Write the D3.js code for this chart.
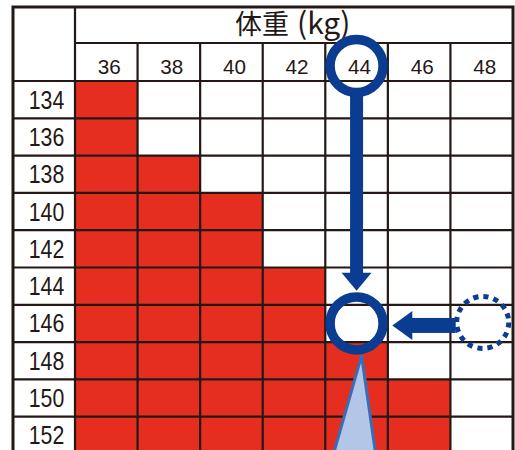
<!DOCTYPE html>
<html><head><meta charset="utf-8">
<script src="https://cdn.jsdelivr.net/npm/d3@7"></script>
<style>html,body{margin:0;padding:0;background:#fff;overflow:hidden} svg{display:block}</style>
</head><body><svg id="c" width="515" height="450"></svg>
<script>
// ---- data ----
const weights = [36, 38, 40, 42, 44, 46, 48];            // column headers (kg)
const heights = [134, 136, 138, 140, 142, 144, 146, 148, 150, 152]; // row labels (cm)
const redFrom = [134, 138, 140, 144, 148, 150, null];    // first red row per weight column
const titleMain = "体重";
const titleUnit = "(kg)";
const selectedWeight = 44;
const selectedHeight = 146;
const fromWeight = 48;

// ---- layout ----
const L = 13, R = 513, T = 7, titleB = 43, headB = 81, B = 454, labelR = 75;
const RED = "#e52e20", LINE = "#231815", BLUE = "#0a3d91";
const svg = d3.select("#c");
const x = d3.scaleBand().domain(weights).range([labelR, R]);
const y = d3.scaleBand().domain(heights).range([headB, B]);
const bw = x.bandwidth(), bh = y.bandwidth();

// cells
const cells = [];
weights.forEach((w, i) => heights.forEach(h => cells.push({w, h, red: redFrom[i] != null && h >= redFrom[i]})));
svg.append("g").selectAll("rect").data(cells.filter(c => c.red)).join("rect")
  .attr("x", d => x(d.w)).attr("y", d => y(d.h))
  .attr("width", bw).attr("height", bh).attr("fill", RED);

// grid lines
const g = svg.append("g").attr("stroke", LINE).attr("stroke-width", 2.2);
g.append("line").attr("x1", labelR).attr("x2", R).attr("y1", titleB).attr("y2", titleB);
g.selectAll("line.h").data(heights).join("line").attr("class", "h")
  .attr("x1", L).attr("x2", R).attr("y1", d => y(d)).attr("y2", d => y(d));
g.selectAll("line.v").data(weights.slice(1)).join("line").attr("class", "v")
  .attr("x1", d => x(d)).attr("x2", d => x(d)).attr("y1", titleB).attr("y2", B);
g.append("line").attr("x1", labelR).attr("x2", labelR).attr("y1", T).attr("y2", B);
svg.append("rect").attr("x", L).attr("y", T).attr("width", R - L).attr("height", B - T)
  .attr("fill", "none").attr("stroke", LINE).attr("stroke-width", 3);

// texts
const title = svg.append("text").attr("x", 235).attr("y", 34)
  .attr("font-family", "'Noto Sans CJK JP', sans-serif")
  .attr("font-size", 27).attr("fill", LINE);
title.append("tspan").text(titleMain);
title.append("tspan").attr("dx", 8).attr("font-size", 30).text(titleUnit);
svg.append("g").selectAll("text").data(weights).join("text")
  .attr("x", d => x(d) + bw / 2 + 3).attr("y", 73.5)
  .attr("text-anchor", "middle").attr("font-family", "'Liberation Sans', Arial, sans-serif")
  .attr("font-size", 21).attr("textLength", 23).attr("lengthAdjust", "spacingAndGlyphs")
  .attr("fill", LINE).text(d => d);
svg.append("g").selectAll("text").data(heights).join("text")
  .attr("x", (L + labelR) / 2 + 2.5).attr("y", d => y(d) + bh / 2 + 9)
  .attr("text-anchor", "middle").attr("font-family", "'Liberation Sans', Arial, sans-serif")
  .attr("font-size", 25).attr("textLength", 35.5).attr("lengthAdjust", "spacingAndGlyphs")
  .attr("fill", LINE).text(d => d);

// annotations
const cx = x(selectedWeight) + bw / 2;
const cyTop = (titleB + headB) / 2 + 4;
const cyLow = y(selectedHeight) + bh / 2;
const r = 26.5, sw = 9.5;
// triangle
const ax = cx + 5, ay = cyLow + r + sw / 2 + 1;
svg.append("path")
  .attr("d", `M${ax},${ay} L${ax - 30},${ay + 105} L${ax + 15},${ay + 105} Z`)
  .attr("fill", "#b4c6e7").attr("stroke", "#3b6db6").attr("stroke-width", 3).attr("stroke-linejoin", "round");
// down arrow
const tipY = cyLow - r - sw / 2 - 1.5;
svg.append("rect").attr("x", cx - 6.5).attr("y", cyTop + r).attr("width", 13).attr("height", tipY - 17 - (cyTop + r))
  .attr("fill", BLUE);
svg.append("path").attr("d", `M${cx - 15},${tipY - 18} L${cx + 15},${tipY - 18} L${cx},${tipY} Z`).attr("fill", BLUE);
// circles
svg.append("circle").attr("cx", cx).attr("cy", cyTop).attr("r", r)
  .attr("fill", "none").attr("stroke", BLUE).attr("stroke-width", sw);
svg.append("circle").attr("cx", cx).attr("cy", cyLow).attr("r", r)
  .attr("fill", "none").attr("stroke", BLUE).attr("stroke-width", sw);
// left arrow
const fx = x(fromWeight) + bw / 2;
const hy = cyLow + 2;
const tipX = cx + r + sw / 2 + 4.5;
svg.append("path").attr("d", `M${tipX},${hy} L${tipX + 20},${hy - 14.5} L${tipX + 20},${hy + 14.5} Z`).attr("fill", BLUE);
svg.append("rect").attr("x", tipX + 19).attr("y", hy - 7.5).attr("width", fx - 26 - (tipX + 19)).attr("height", 15).attr("fill", BLUE);
// dotted circle
svg.append("circle").attr("cx", fx + 1).attr("cy", cyLow - 1).attr("r", 26)
  .attr("fill", "none").attr("stroke", BLUE).attr("stroke-width", 5).attr("stroke-dasharray", "5.2 5");
</script></body></html>
